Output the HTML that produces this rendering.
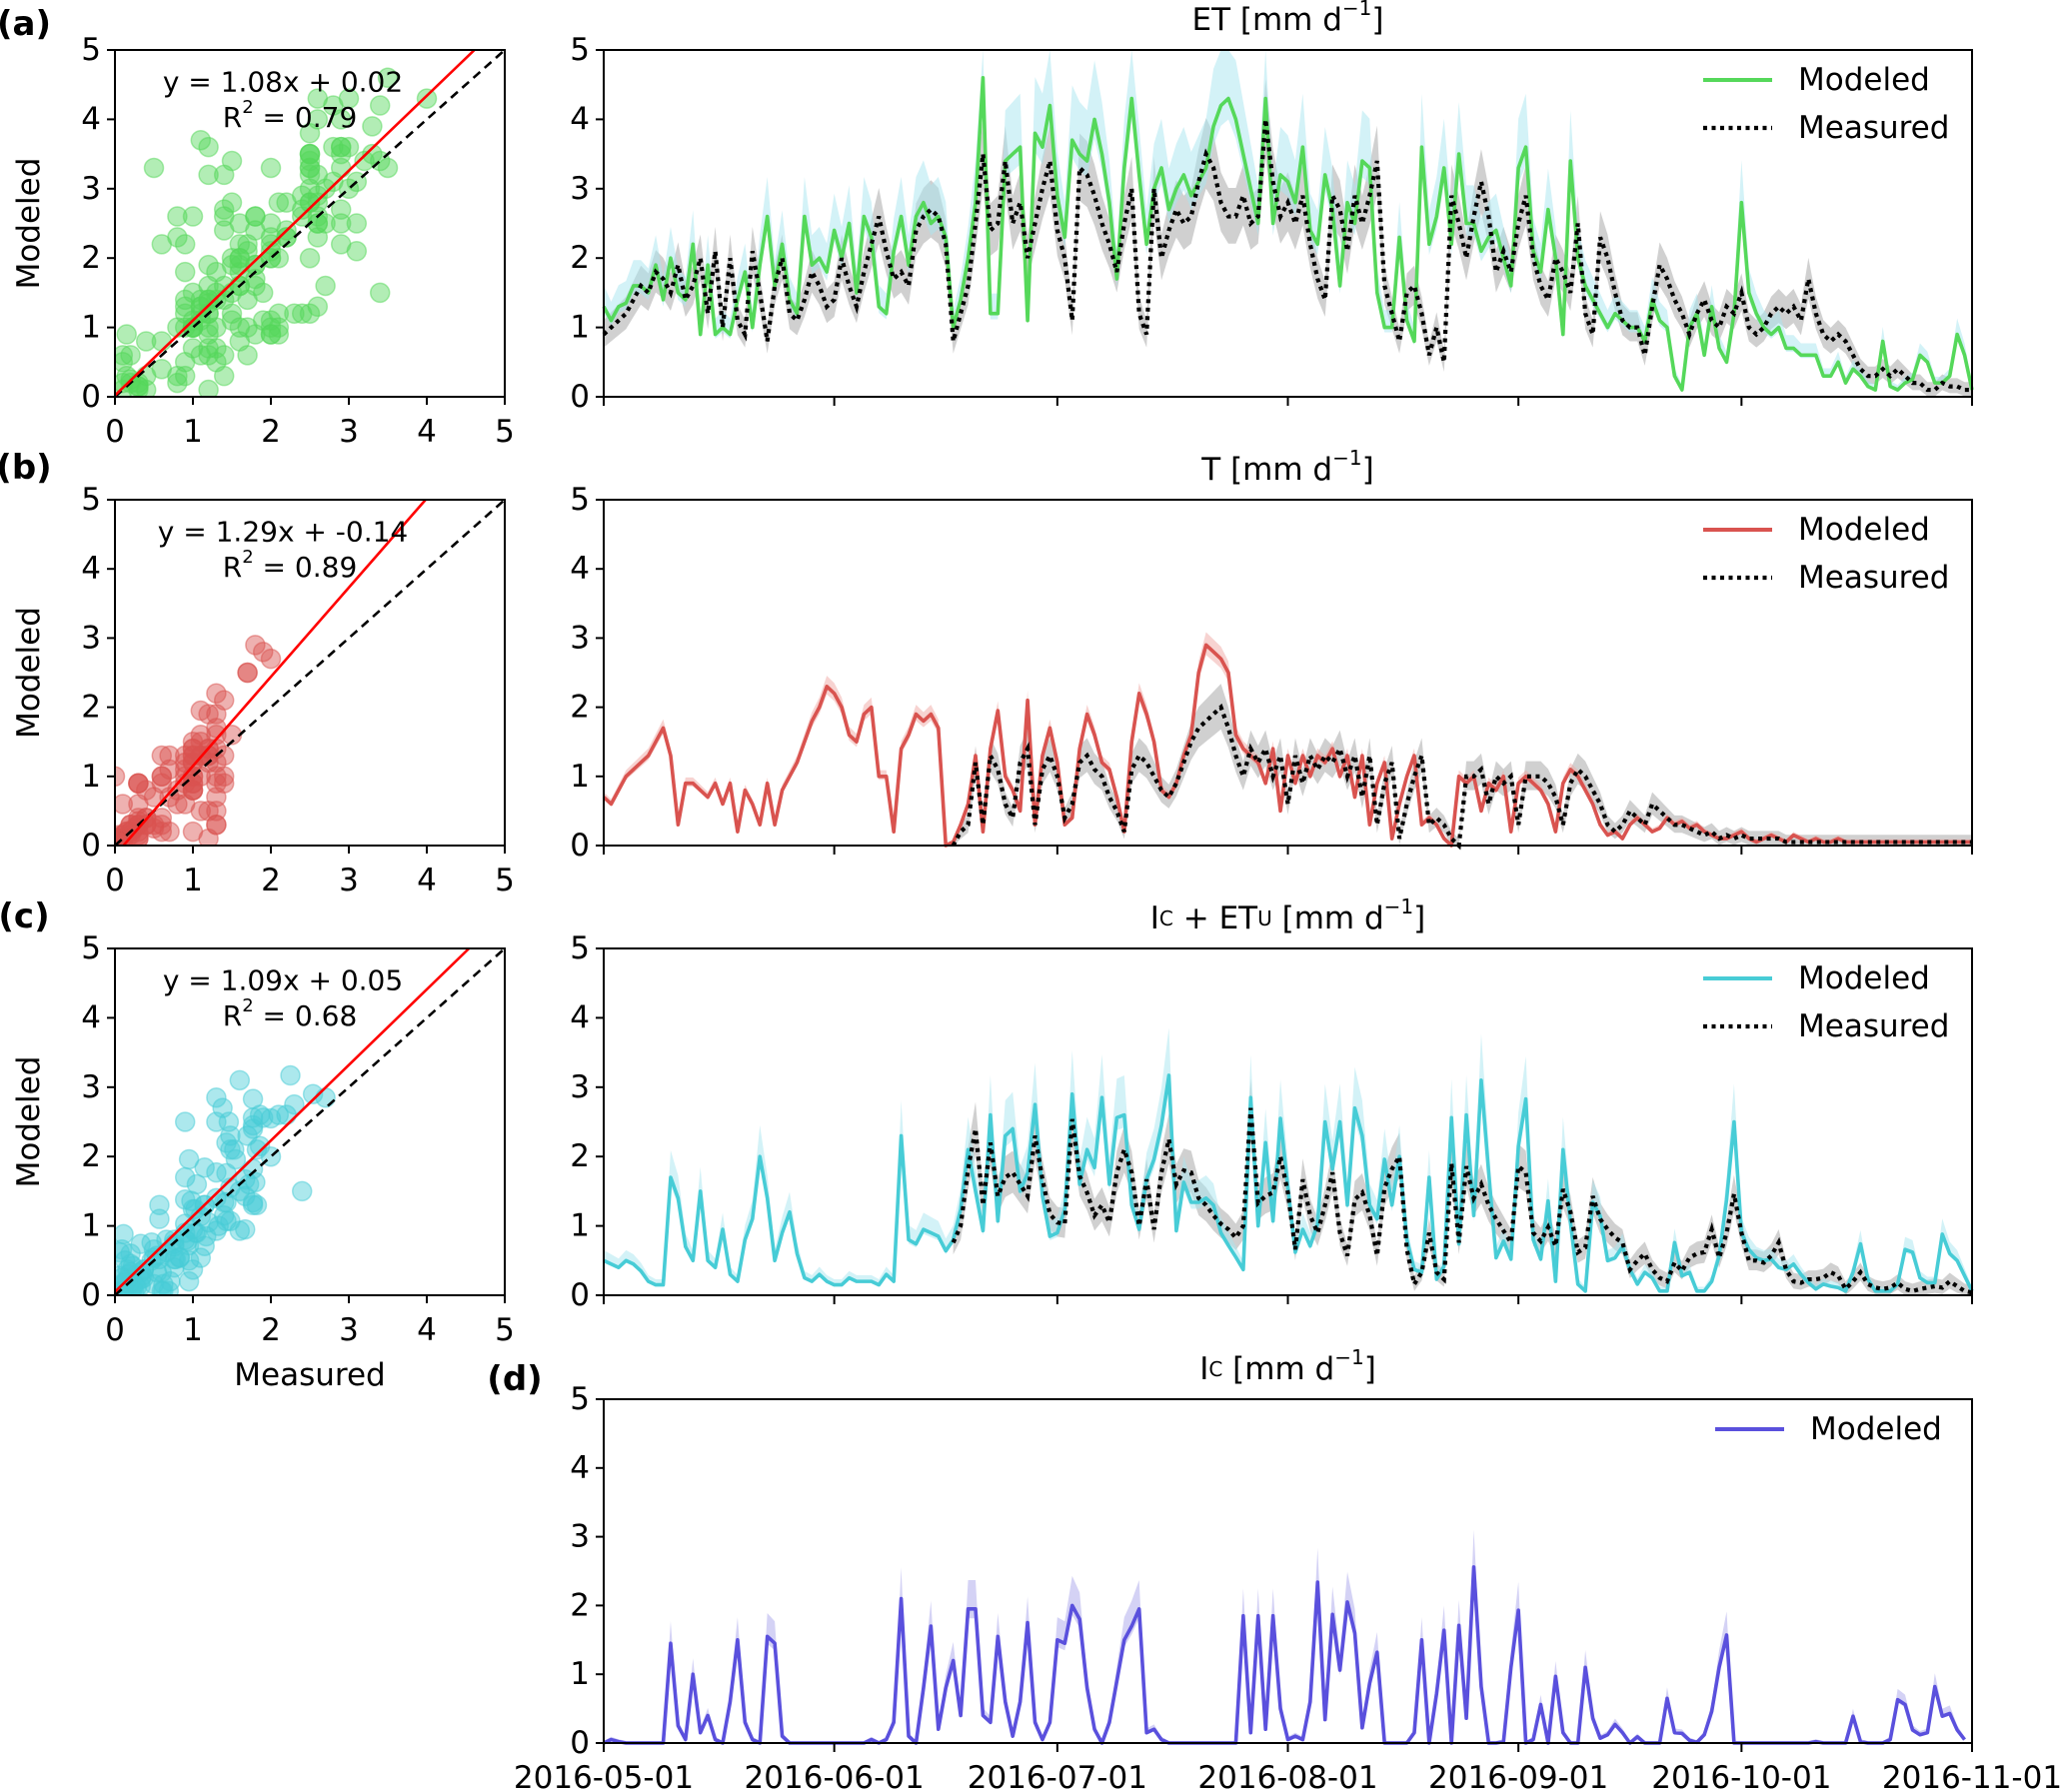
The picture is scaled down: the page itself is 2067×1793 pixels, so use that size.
<!DOCTYPE html>
<html><head><meta charset="utf-8">
<style>
html,body{margin:0;padding:0;background:#fff;}
svg{display:block;font-family:"DejaVu Sans","Liberation Sans",sans-serif;}
</style></head>
<body>
<svg id="fig" width="2067" height="1793" viewBox="0 0 2067 1793" xmlns="http://www.w3.org/2000/svg"></svg>
<script>
// ---------------- DATA ----------------
const dateTicks = ["2016-05-01","2016-06-01","2016-07-01","2016-08-01","2016-09-01","2016-10-01","2016-11-01"];
const dateTickDays = [0,31,61,92,123,153,184];
const yTicks = [0,1,2,3,4,5];
const xTicksScatter = [0,1,2,3,4,5];

const etModeled = [1.3,1.1,1.3,1.35,1.6,1.6,1.5,1.9,1.4,2.0,1.5,1.4,2.2,0.9,1.9,0.9,1.0,0.9,1.4,1.8,1.0,1.9,2.6,1.6,2.2,1.4,1.2,2.6,1.9,2.0,1.8,
2.4,2.0,2.5,1.5,2.6,2.3,1.3,1.2,2.1,2.6,1.9,2.6,2.8,2.5,2.6,2.3,1.0,1.4,2.0,2.8,4.6,1.2,1.2,3.4,3.5,
3.6,1.1,3.8,3.6,4.2,2.9,2.3,3.7,3.5,3.4,4.0,3.5,2.8,1.7,3.3,4.3,3.2,2.2,3.0,3.3,2.7,3.0,3.2,2.9,3.1,3.3,3.9,4.2,4.3,4.0,3.5,3.0,2.5,4.3,
2.5,3.2,3.1,2.8,3.6,2.4,2.2,3.2,2.7,1.6,2.8,2.5,3.4,3.3,1.5,1.0,1.0,2.3,1.1,0.8,3.6,2.2,2.6,3.3,2.2,3.5,2.5,2.5,2.1,2.3,2.4,
2.0,1.6,3.3,3.6,2.1,1.8,2.7,2.0,0.9,3.4,2.0,1.6,1.4,1.2,1.0,1.2,1.1,1.0,1.0,0.8,1.4,1.1,1.0,0.3,0.1,1.0,1.2,0.6,1.3,0.7,0.5,1.2,
2.8,1.5,1.2,1.0,0.9,1.0,0.7,0.7,0.6,0.6,0.6,0.3,0.3,0.5,0.2,0.4,0.3,0.15,0.1,0.8,0.15,0.1,0.2,0.25,0.6,0.5,0.2,0.2,0.3,0.9,0.6,0.1,0.1];
const etMeasured = [0.9,1.0,1.1,1.2,1.4,1.6,1.5,1.8,1.7,1.5,1.9,1.4,1.6,2.0,1.2,2.1,1.0,2.0,1.1,0.9,2.1,1.5,0.8,1.6,2.0,1.2,1.1,1.4,1.8,1.6,1.3,
1.4,2.0,1.6,1.3,1.8,2.2,2.6,2.1,1.7,1.8,1.6,2.4,2.6,2.7,2.6,2.2,0.8,1.2,1.6,2.5,3.5,2.4,2.5,3.4,
2.5,2.8,2.0,2.5,3.0,3.4,2.4,2.0,1.1,3.3,3.2,2.9,2.5,2.2,1.8,2.5,3.0,1.2,0.9,3.0,2.0,2.4,2.7,2.5,2.6,3.1,3.5,3.3,2.8,2.6,2.6,2.9,2.5,2.6,4.0,
3.1,2.6,2.8,2.5,2.9,2.2,1.7,1.4,2.9,2.7,2.1,2.9,2.5,2.9,3.4,1.6,1.2,0.8,1.5,1.6,1.2,0.6,1.0,0.5,2.9,2.5,2.0,2.6,3.1,2.6,1.8,
2.1,1.8,2.5,2.9,2.0,1.6,1.4,2.0,1.8,1.5,2.5,1.2,0.9,2.3,2.0,1.5,1.1,1.0,1.0,0.6,1.3,1.9,1.7,1.4,1.2,0.9,1.2,1.4,1.1,1.0,1.3,1.2,
1.5,1.0,0.9,1.0,1.2,1.3,1.2,1.3,1.1,1.7,1.2,0.9,0.8,0.9,0.8,0.6,0.4,0.3,0.3,0.4,0.3,0.4,0.3,0.2,0.2,0.1,0.1,0.2,0.15,0.15,0.1,0.1];

const tModeled = [0.7,0.6,0.8,1.0,1.1,1.2,1.3,1.5,1.7,1.3,
0.3,0.9,0.9,0.8,0.7,0.9,0.6,0.9,0.2,0.8,0.6,0.3,0.9,0.3,0.8,1.0,1.2,1.5,1.8,2.0,2.3,2.2,2.0,1.6,1.5,1.9,2.0,1.0,1.0,0.2,1.4,1.6,1.9,1.8,1.9,1.7,0.0,
0.05,0.3,0.6,1.3,0.2,1.4,1.95,1.0,0.8,0.5,2.1,0.3,1.3,1.7,1.2,0.3,0.4,1.4,1.9,1.6,1.2,1.1,0.7,0.2,1.5,2.2,1.9,1.5,0.8,0.7,0.9,1.3,1.6,2.5,2.9,2.8,2.7,2.5,1.6,1.4,1.3,1.2,0.9,1.4,0.5,1.3,
0.9,1.3,1.0,1.3,1.2,1.4,1.0,1.3,0.7,1.3,0.3,0.9,1.2,0.1,0.6,1.0,1.3,0.3,0.4,0.3,0.1,0.0,
1.0,0.9,1.0,0.5,0.9,0.8,1.0,0.2,0.9,1.0,0.9,0.8,0.6,0.2,0.9,1.1,1.0,0.8,0.6,0.3,0.15,0.2,0.1,0.3,0.4,0.3,0.2,0.25,0.4,0.3,
0.35,0.25,0.3,0.2,0.15,0.1,0.1,0.15,0.2,0.1,0.05,0.1,0.15,0.1,0.05,0.15,0.1,0.05,0.1,0.05,0.05,0.1,0.05,0.05,0.05,0.05,0.05,0.05,0.05,0.05,0.05,0.05,0.05,0.05,0.05,0.05,0.05,0.05,0.05,0.05];
const tMeasuredStart = 47;
const tMeasured = [0.0,0.2,0.3,1.2,0.3,1.3,1.1,0.6,0.4,1.2,1.4,0.3,1.1,1.3,1.0,0.4,0.6,1.2,1.3,1.1,1.0,0.7,0.5,0.2,1.1,1.3,1.2,1.0,0.8,0.7,0.9,1.2,1.5,1.7,1.8,1.9,2.0,1.7,1.3,1.0,1.4,1.2,1.4,1.0,1.3,0.6,
1.3,0.9,1.3,1.1,1.3,1.2,1.4,1.0,1.3,0.7,1.3,0.3,0.9,1.2,0.1,0.6,1.0,1.3,0.3,0.4,0.3,0.1,0.0,
1.0,1.0,1.1,0.6,1.0,0.9,1.0,0.3,1.0,1.0,1.0,0.9,0.7,0.3,0.9,1.1,1.0,0.8,0.6,0.3,0.2,0.3,0.5,0.4,0.3,0.6,0.5,0.4,0.3,0.3,
0.25,0.2,0.15,0.2,0.1,0.15,0.1,0.15,0.1,0.1,0.1,0.1,0.1,0.05,0.05,0.05,0.05,0.05,0.05,0.05,0.05,0.05,0.05,0.05,0.05,0.05,0.05,0.05,0.05,0.05,0.05,0.05,0.05,0.05,0.05,0.05,0.05,0.05,0.05];

const icetuModeled = [0.5,0.45,0.4,0.5,0.45,0.35,0.2,0.15,0.15,1.7,1.4,0.7,0.5,1.5,0.5,0.4,0.95,0.3,0.2,0.8,1.1,2.0,1.4,0.5,0.9,1.2,0.6,0.25,0.2,0.3,0.2,0.15,0.15,0.25,0.2,0.2,0.2,0.15,0.3,0.2,
2.3,0.8,0.74,0.95,0.9,0.85,0.64,0.8,1.24,2.1,1.5,0.93,2.6,1.07,2.3,2.4,1.5,1.76,2.75,1.43,0.85,0.9,1.24,2.9,1.6,2.1,1.84,2.85,1.6,2.56,
2.6,1.3,0.95,1.67,1.96,2.45,3.17,0.93,1.63,1.34,1.34,1.4,1.3,0.9,0.72,0.55,0.37,2.85,1.0,2.2,1.07,2.55,1.55,0.62,0.95,0.71,1.03,2.5,1.82,2.5,
1.3,2.7,2.3,1.3,1.1,1.96,1.3,2.0,0.8,0.37,0.33,1.7,0.23,0.42,2.56,0.74,2.6,1.15,3.1,1.77,0.54,0.78,0.52,2.15,2.83,0.8,0.52,1.36,0.2,2.1,
1.05,0.16,0.06,1.34,1.14,0.5,0.54,0.7,0.37,0.16,0.33,0.25,0.06,0.06,0.76,0.28,0.33,0.06,0.06,0.2,0.57,1.38,2.5,0.9,0.66,0.54,0.5,0.52,0.4,0.37,
0.45,0.3,0.18,0.09,0.16,0.13,0.11,0.06,0.33,0.74,0.23,0.06,0.06,0.06,0.16,0.66,0.62,0.25,0.18,0.18,0.88,0.6,0.5,0.28,0.06];
const icetuMeasuredStart = 47;
const icetuMeasured = [0.76,1.0,1.82,2.4,1.3,2.2,1.43,1.7,1.77,1.6,1.43,2.3,1.67,1.17,1.05,1.03,2.54,1.72,1.48,1.15,1.3,1.05,1.77,2.1,1.77,1.0,1.67,0.95,1.77,2.25,
1.6,1.8,1.77,1.4,1.3,1.15,1.03,0.95,0.83,1.0,2.7,1.33,1.43,1.48,2.0,1.48,0.66,1.67,1.15,0.9,1.3,1.77,0.9,0.57,1.38,1.48,1.15,0.57,1.55,1.82,
2.0,0.66,0.16,0.33,0.9,0.33,0.23,1.9,0.76,1.86,1.4,1.6,1.3,1.1,0.93,0.76,1.86,1.77,0.9,0.78,0.98,0.71,1.53,1.2,0.62,0.69,1.43,1.1,0.95,0.83,
0.76,0.37,0.5,0.6,0.37,0.25,0.2,0.47,0.35,0.54,0.6,0.62,0.95,0.54,0.9,1.46,0.9,0.5,0.5,0.47,0.57,0.76,0.37,0.2,0.18,0.23,0.23,0.25,0.33,0.28,
0.09,0.2,0.33,0.16,0.11,0.09,0.11,0.18,0.09,0.06,0.09,0.11,0.13,0.11,0.2,0.13,0.06,0.04];

const icModeled = [0,0.05,0.02,0,0,0,0,0,0,1.45,0.25,0.05,1.0,0.15,0.4,0.05,0,0.6,1.5,0.3,0.05,0,1.55,1.45,0.1,
0,0,0,0,0,0,0,0,0,0,0,0.05,0,0.05,0.3,2.1,0.1,0,0.8,1.7,0.2,0.8,1.2,0.4,1.95,1.95,0.4,0.3,1.55,0.6,0.1,0.6,1.75,0.3,0.05,0.3,
1.5,1.45,2.0,1.8,0.8,0.2,0,0.3,0.9,1.5,1.7,1.95,0.15,0.2,0.05,0,0,0,0,0,0,0,0,0,0,1.85,0.15,1.85,0.2,1.85,0.5,0.05,0.1,0.05,0.6,
2.34,0.34,1.87,1.06,2.05,1.6,0.22,0.87,1.32,0,0,0,0,0.15,1.5,0,0.72,1.64,0,1.71,0.36,2.56,0.82,0,0,0.02,
1.1,1.93,0,0.05,0.56,0,0.97,0.15,0,0,1.1,0.36,0.07,0.12,0.27,0.15,0,0.09,0,0,0,0.65,0.15,0.14,0.04,0.01,0.12,0.46,1.1,1.57,
0,0,0,0,0,0,0,0,0,0,0,0.02,0,0,0,0,0.39,0.02,0,0,0,0.05,0.63,0.56,0.19,0.12,0.15,0.82,0.39,0.43,0.19,0.05];

const etFit = [1.08, 0.02], etR2 = 0.79;
const tFit = [1.29, -0.14], tR2 = 0.89;
const icFit = [1.09, 0.05], icR2 = 0.68;

// ---------------- DRAWING ----------------
const NS = "http://www.w3.org/2000/svg";
const svg = document.getElementById('fig');
function mk(tag, attrs, parent){
  const e = document.createElementNS(NS, tag);
  for (const k in attrs) e.setAttribute(k, attrs[k]);
  (parent || svg).appendChild(e);
  return e;
}
function txt(x, y, s, size, anchor, parent, weight){
  const t = mk('text', {x:x, y:y, 'font-size':size, 'text-anchor':anchor||'middle', 'dominant-baseline':'central', fill:'#000'}, parent);
  if (weight) t.setAttribute('font-weight', weight);
  t.textContent = s;
  return t;
}
const FS = 31;
const SX0 = 115, SX1 = 505, TX0 = 604, TX1 = 1973;
const panels = [[50,397],[500,846],[949,1296],[1400,1744]];
const tsX = d => TX0 + (d / 184) * (TX1 - TX0);

function yScale(p){ return v => p[1] - (v / 5) * (p[1] - p[0]); }

function drawTs(pi, titleParts, modeled, color, bandColor, band, measured, mStart, showDates, legendHasMeasured){
  const p = panels[pi]; const ys = yScale(p);
  const g = mk('g', {});
  
  
  if (measured){
    let up = '', lo = [];
    measured.forEach((v, i) => { const d = mStart + i; if (d > 184) return; up += (up ? 'L' : 'M') + tsX(d) + ',' + ys(Math.min(5, v * 1.12 + 0.1)); lo.push(tsX(d) + ',' + ys(Math.max(0, v * 0.88 - 0.08))); });
    const b = mk('path', {d: up + 'L' + lo.reverse().join('L') + 'Z', fill:'#b0b0b0', 'fill-opacity':0.6}, g);
    
    
  }
  let up = '', lo = [];
  modeled.forEach((v, i) => { if (i > 184) return; up += (up ? 'L' : 'M') + tsX(i) + ',' + ys(Math.min(5, v * band[0] + band[1])); lo.push(tsX(i) + ',' + ys(Math.max(0, v * band[2]))); });
  const mb = mk('path', {d: up + 'L' + lo.reverse().join('L') + 'Z', fill:bandColor, 'fill-opacity':0.5}, g);
  
  
  const mpts = modeled.map((v, i) => i <= 184 ? tsX(i) + ',' + ys(v) : null).filter(Boolean).join(' ');
  const ml = mk('polyline', {points: mpts, fill:'none', stroke:color, 'stroke-width':3.6, 'stroke-linejoin':'round'}, g);
  
  
  if (measured){
    const pts = measured.map((v, i) => (mStart + i) <= 184 ? tsX(mStart + i) + ',' + ys(v) : null).filter(Boolean).join(' ');
    const l = mk('polyline', {points: pts, fill:'none', stroke:'#000', 'stroke-width':4.2, 'stroke-dasharray':'4 4.5'}, g);
    
    
  }
  const fr = mk('rect', {x:TX0, y:p[0], width:TX1 - TX0, height:p[1] - p[0], fill:'none', stroke:'#000', 'stroke-width':2}, g);
  
  
  yTicks.forEach(v => {
    mk('line', {x1:TX0 - 8, x2:TX0, y1:ys(v), y2:ys(v), stroke:'#000', 'stroke-width':2}, g);
    const t = txt(TX0 - 14, ys(v), String(v), FS, 'end', g);
    
    
  });
  dateTickDays.forEach((d, i) => {
    mk('line', {x1:tsX(d), x2:tsX(d), y1:p[1], y2:p[1] + 9, stroke:'#000', 'stroke-width':2}, g);
    if (showDates){
      const t = txt(tsX(d), p[1] + 35, dateTicks[i], FS, 'middle', g);
      
      
    }
  });
  const tt = mk('text', {x:(TX0 + TX1) / 2, y:p[0] - 30, 'font-size':FS, 'text-anchor':'middle', 'dominant-baseline':'central'}, g);
  
  
  titleParts.forEach(part => {
    const s = mk('tspan', {}, tt);
    if (part[1] === 'sub') { s.setAttribute('font-size', 20); }
    if (part[1] === 'sup') { s.setAttribute('font-size', 20); s.setAttribute('dy', -12); }
    if (part[1] === 'back') { s.setAttribute('dy', 12); }
    s.textContent = part[0];
  });
  const lg = mk('g', {}, g);
  
  
  const lx0 = legendHasMeasured ? 1704 : 1716, lx1 = legendHasMeasured ? 1773 : 1785, tx = legendHasMeasured ? 1799 : 1811;
  mk('line', {x1:lx0, x2:lx1, y1:p[0] + 30, y2:p[0] + 30, stroke:color, 'stroke-width':4}, lg);
  const t1 = txt(tx, p[0] + 30, 'Modeled', FS, 'start', lg);
  
  
  if (legendHasMeasured){
    mk('line', {x1:lx0, x2:lx1, y1:p[0] + 78, y2:p[0] + 78, stroke:'#000', 'stroke-width':4.2, 'stroke-dasharray':'4 4.5'}, lg);
    const t2 = txt(tx, p[0] + 78, 'Measured', FS, 'start', lg);
    
    
  }
}

function drawScatter(pi, modeled, measured, mStart, color, fit, r2, showXLabel){
  const p = panels[pi]; const ys = yScale(p);
  const xs = v => SX0 + (v / 5) * (SX1 - SX0);
  const g = mk('g', {});
  
  
  const defsClip = mk('clipPath', {id:'clip' + pi}, g);
  mk('rect', {x:SX0, y:p[0], width:SX1 - SX0, height:p[1] - p[0]}, defsClip);
  const pg = mk('g', {'clip-path':'url(#clip' + pi + ')'}, g);
  measured.forEach((mv, i) => {
    const d = mStart + i;
    if (d >= modeled.length || d > 184) return;
    const c = mk('circle', {cx:xs(mv), cy:ys(modeled[d]), r:9.5, fill:color, 'fill-opacity':0.45, stroke:color, 'stroke-opacity':0.5, 'stroke-width':1.5}, pg);
    
    
  });
  const one = mk('line', {x1:xs(0), y1:ys(0), x2:xs(5), y2:ys(5), stroke:'#000', 'stroke-width':2.6, 'stroke-dasharray':'9 6'}, pg);
  
  
  const xe = (5 - fit[1]) / fit[0];
  const rl = mk('line', {x1:xs(0), y1:ys(fit[1]), x2:xs(Math.min(5, xe)), y2:ys(fit[0] * Math.min(5, xe) + fit[1]), stroke:'#ff0000', 'stroke-width':2.6}, pg);
  
  
  const fr = mk('rect', {x:SX0, y:p[0], width:SX1 - SX0, height:p[1] - p[0], fill:'none', stroke:'#000', 'stroke-width':2}, g);
  
  
  yTicks.forEach(v => {
    mk('line', {x1:SX0 - 8, x2:SX0, y1:ys(v), y2:ys(v), stroke:'#000', 'stroke-width':2}, g);
    const t = txt(SX0 - 14, ys(v), String(v), FS, 'end', g);
    
    
  });
  xTicksScatter.forEach(v => {
    mk('line', {x1:xs(v), x2:xs(v), y1:p[1], y2:p[1] + 8, stroke:'#000', 'stroke-width':2}, g);
    const t = txt(xs(v), p[1] + 35, String(v), FS, 'middle', g);
    
    
  });
  const eq = txt(283, p[0] + 32, 'y = ' + fit[0].toFixed(2) + 'x + ' + fit[1].toFixed(2), 28, 'middle', g);
  
  
  const rt = mk('text', {x:290, y:p[0] + 67, 'font-size':28, 'text-anchor':'middle', 'dominant-baseline':'central'}, g);
  
  
  const a = mk('tspan', {}, rt); a.textContent = 'R';
  const b = mk('tspan', {'font-size':18, dy:-10}, rt); b.textContent = '2';
  const c = mk('tspan', {dy:10}, rt); c.textContent = ' = ' + r2.toFixed(2);
  const yl = mk('text', {x:0, y:0, 'font-size':FS, 'text-anchor':'middle', 'dominant-baseline':'central', transform:'translate(29,' + ((p[0] + p[1]) / 2) + ') rotate(-90)'}, g);
  
  
  yl.textContent = 'Modeled';
  if (showXLabel){
    const xl = txt(310, p[1] + 80, 'Measured', FS, 'middle', g);
    
    
  }
}

const GREEN = '#55d85a', RED = '#d9534f', CYAN = '#47ccd6', PURPLE = '#5a50dd';
drawScatter(0, etModeled, etMeasured, 0, GREEN, etFit, etR2, false);
drawScatter(1, tModeled, tMeasured, tMeasuredStart, RED, tFit, tR2, false);
drawScatter(2, icetuModeled, icetuMeasured, icetuMeasuredStart, CYAN, icFit, icR2, true);

drawTs(0, [['ET [mm d'],['\u22121','sup'],[']','back']], etModeled, GREEN, '#a8e6ef', [1.2,0.05,0.93], etMeasured, 0, false, true);
drawTs(1, [['T [mm d'],['\u22121','sup'],[']','back']], tModeled, RED, '#f0a8a4', [1.05,0.04,0.95], tMeasured, tMeasuredStart, false, true);
drawTs(2, [['I'],['C','sub'],[' + ET'],['U','sub'],[' [mm d'],['\u22121','sup'],[']','back']], icetuModeled, CYAN, '#a8e6ef', [1.2,0.05,0.93], icetuMeasured, icetuMeasuredStart, false, true);
drawTs(3, [['I'],['C','sub'],[' [mm d'],['\u22121','sup'],[']','back']], icModeled, PURPLE, '#a9a5ec', [1.2,0.03,0.93], null, 0, true, false);

[['(a)',24,24],['(b)',24,468],['(c)',24,917],['(d)',515,1380]].forEach(l => {
  const t = txt(l[1], l[2], l[0], 34, 'middle', svg, 'bold');
  
  
});
</script>
</body></html>
